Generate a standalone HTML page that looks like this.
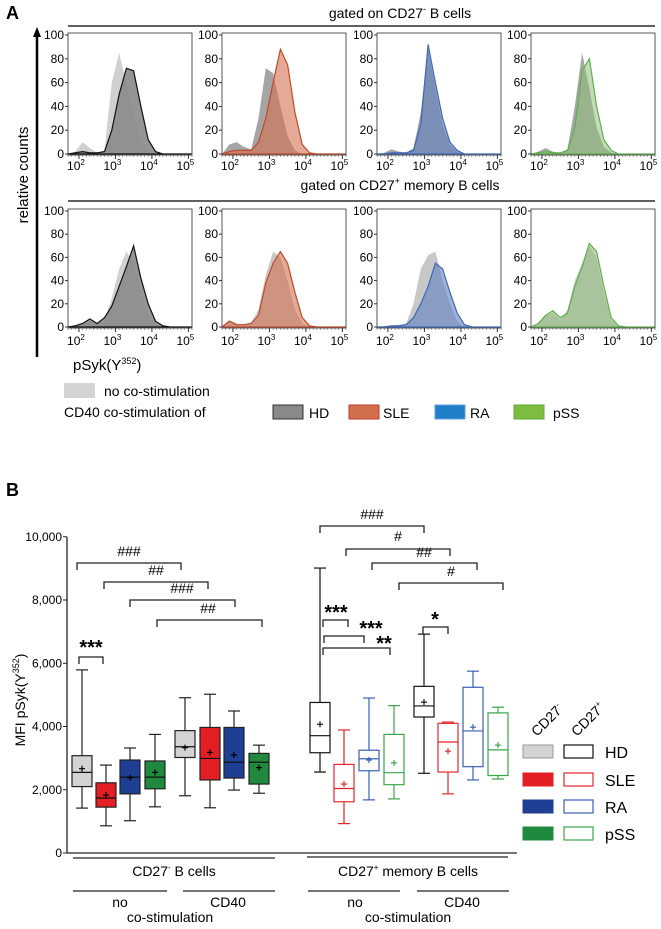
<!DOCTYPE html>
<html><head><meta charset="utf-8"><style>
html,body{margin:0;padding:0;background:#fff}
svg{display:block;font-family:"Liberation Sans",Arial,sans-serif}
</style></head><body>
<svg id="fig" width="661" height="929" viewBox="0 0 661 929" xmlns="http://www.w3.org/2000/svg">
<text x="6" y="19" font-size="18" font-weight="bold">A</text>
<text x="400" y="18" font-size="14" text-anchor="middle">gated on CD27<tspan font-size="9" dy="-6">-</tspan><tspan dy="6"> B cells</tspan></text>
<line x1="68" y1="26" x2="655" y2="26" stroke="#000" stroke-width="1.3"/>
<text x="400" y="190" font-size="14" text-anchor="middle">gated on CD27<tspan font-size="9" dy="-6">+</tspan><tspan dy="6"> memory B cells</tspan></text>
<line x1="68" y1="201" x2="655" y2="201" stroke="#000" stroke-width="1.3"/>
<line x1="37" y1="357" x2="37" y2="34" stroke="#000" stroke-width="2.5"/>
<polygon points="37,27 33,37 41,37" fill="#000"/>
<text transform="translate(28,175) rotate(-90)" font-size="15" text-anchor="middle">relative counts</text>
<text x="73" y="370" font-size="15">pSyk(Y<tspan font-size="9" dy="-6">352</tspan><tspan dy="6">)</tspan></text>
<rect x="64" y="383" width="31" height="15" fill="#d4d4d4"/>
<text x="104" y="396" font-size="14">no co-stimulation</text>
<text x="64" y="417" font-size="14">CD40 co-stimulation of</text>
<rect x="273" y="405" width="30" height="14" fill="#8a8a8a" stroke="#333"/>
<text x="309" y="418" font-size="14">HD</text>
<rect x="349" y="405" width="30" height="14" fill="#d0704a" stroke="#c0392b"/>
<text x="383" y="418" font-size="14">SLE</text>
<rect x="435" y="405" width="30" height="14" fill="#1f7fc8" stroke="#5aa0dd"/>
<text x="470" y="418" font-size="14">RA</text>
<rect x="514" y="405" width="30" height="14" fill="#7cbd3f" stroke="#5caa3a"/>
<text x="553" y="418" font-size="14">pSS</text>

<text x="6" y="496" font-size="18" font-weight="bold">B</text>
<text transform="translate(25,700) rotate(-90)" font-size="14" text-anchor="middle">MFI pSyk(Y<tspan font-size="9" dy="-6">352</tspan><tspan dy="6">)</tspan></text>
<g id="histos"></g>
<g id="boxes"></g>
<g id="legendB">
<text transform="translate(537,737) rotate(-45)" font-size="14">CD27<tspan font-size="8" dy="-6">-</tspan></text>
<text transform="translate(577,737) rotate(-45)" font-size="14">CD27<tspan font-size="8" dy="-6">+</tspan></text>
</g>
</svg>
<script>
const NS="http://www.w3.org/2000/svg";
function mk(tag,attrs,parent){const e=document.createElementNS(NS,tag);for(const k in attrs)e.setAttribute(k,attrs[k]);(parent||document.getElementById('fig')).appendChild(e);return e;}

// ---------- Panel A data ----------
const logBins=[1.7,1.9,2.1,2.3,2.5,2.7,2.9,3.1,3.3,3.5,3.7,3.9,4.1,4.3,4.5,4.7,4.9,5.1];
const topHdBase=[0,2,10,5,1,3,60,85,60,35,12,3,0,0,0,0,0,0];
const topHdStim=[0,1,2,1,1,2,20,50,72,70,40,12,2,0,0,0,0,0];
const topSleBase=[0,8,10,6,4,30,72,68,40,15,3,0,0,0,0,0,0,0];
const topSleStim=[0,2,3,3,3,10,30,60,88,75,35,8,1,0,0,0,0,0];
const topRaBase=[0,1,4,2,1,5,35,88,55,25,8,2,0,0,0,0,0,0];
const topRaStim=[0,0,1,1,1,3,25,92,60,30,10,3,0,0,0,0,0,0];
const topPssBase=[0,2,5,2,1,4,40,85,55,22,6,1,0,0,0,0,0,0];
const topPssStim=[0,1,2,1,1,3,22,70,80,40,12,3,0,0,0,0,0,0];
const botHdBase=[0,1,3,6,3,5,25,50,65,55,30,10,2,0,0,0,0,0];
const botHdStim=[0,1,3,7,3,8,18,35,52,70,42,20,5,1,0,0,0,0];
const botSleBase=[0,6,3,2,4,15,45,65,60,40,15,3,0,0,0,0,0,0];
const botSleStim=[0,5,2,2,3,10,38,55,65,55,30,8,1,0,0,0,0,0];
const botRaBase=[0,1,1,2,3,20,50,62,65,40,20,5,0,0,0,0,0,0];
const botRaStim=[0,0,1,1,2,8,20,35,55,50,30,12,2,0,0,0,0,0];
const botPssBase=[0,3,10,12,6,15,40,55,70,60,30,6,0,0,0,0,0,0];
const botPssStim=[0,3,10,14,8,12,35,52,72,65,35,8,1,0,0,0,0,0];
const yTicksA=[0,20,40,60,80,100];
const xTicksA=[2,3,4,5];

const panelX=[68,222,377,531], panelW=124;
const rows=[{top:33,bot:155,lab:170},{top:209,bot:328,lab:345}];
const styles=[
 {name:'hd',base:'#d0d0d0',baseTop:'#d0d0d0',fill:'#8a8a8a',line:'#111',op:0.9},
 {name:'sle',base:'#a5a5a5',baseTop:'#a5a5a5',fill:'#d2724e',line:'#c0492a',op:0.6},
 {name:'ra',base:'#a5a5a5',baseTop:'#a5a5a5',fill:'#5f7fc0',line:'#3f67b5',op:0.6},
 {name:'pss',base:'#a5a5a5',baseTop:'#a5a5a5',fill:'#8fc07a',line:'#5fb04c',op:0.55}];
const series=[[topHdBase,topHdStim],[topSleBase,topSleStim],[topRaBase,topRaStim],[topPssBase,topPssStim],
 [botHdBase,botHdStim],[botSleBase,botSleStim],[botRaBase,botRaStim],[botPssBase,botPssStim]];
const hg=document.getElementById('histos');
rows.forEach((r,ri)=>{
 panelX.forEach((px,pi)=>{
  const st=styles[pi];
  const g=mk('g',{},hg);
  
  
  const xs=v=>px+(v-1.7)/(5.1-1.7)*panelW;
  const ys=v=>r.bot-1-v/100*(r.bot-r.top-3);
  const pathFor=arr=>{let d='M'+xs(logBins[0])+','+ys(0);arr.forEach((v,i)=>{d+=' L'+xs(logBins[i]).toFixed(1)+','+ys(v).toFixed(1);});d+=' L'+xs(logBins[logBins.length-1])+','+ys(0)+'Z';return d;};
  const [b,s]=series[ri*4+pi];
  const bp=mk('path',{d:pathFor(b),fill:(ri===1&&pi>0)?'#c8c8c8':(pi===0?'#d0d0d0':st.base)},g);
  
  
  const sp=mk('path',{d:pathFor(s),fill:st.fill,'fill-opacity':st.op,stroke:st.line,'stroke-width':1.2},g);
  
  
  const fr=mk('rect',{x:px,y:r.top,width:panelW,height:r.bot-r.top,fill:'none',stroke:'#555','stroke-width':1},g);
  
  
  yTicksA.forEach(t=>{
   const y=ys(t);
   mk('line',{x1:px-3,x2:px,y1:y,y2:y,stroke:'#333'},g);
   const tx=mk('text',{x:px-4,y:y+4,'font-size':12,'text-anchor':'end'},g);
   tx.textContent=t;
   
   
  });
  for(let d=1.7;d<=5.1;d+=0.1){const x=xs(d);mk('line',{x1:x,x2:x,y1:r.bot,y2:r.bot+2,stroke:'#666','stroke-width':0.6},g);}
  xTicksA.forEach(t=>{
   const x=xs(t);
   mk('line',{x1:x,x2:x,y1:r.bot,y2:r.bot+4,stroke:'#333'},g);
   const tx=mk('text',{x:x-3,y:r.lab,'font-size':12,'text-anchor':'middle'},g);
   
   
   tx.innerHTML='10<tspan font-size="8" dy="-5">'+t+'</tspan>';
  });
 });
});

// ---------- Panel B data ----------
const groupNames=['HD','SLE','RA','pSS','HD','SLE','RA','pSS','HD','SLE','RA','pSS','HD','SLE','RA','pSS'];
const whiskMax=[5790,2780,3320,3750,4910,5020,4490,3410,9010,3890,4900,4660,6920,4140,5750,4610];
const q3Vals=[3077,2220,2940,2910,3870,3970,3970,3150,4760,2800,3250,3750,5270,4100,5240,4430];
const medVals=[2550,1740,2400,2400,3360,2990,2870,2870,3710,2040,2980,2540,4650,3510,3860,3260];
const q1Vals=[2100,1450,1870,2030,3020,2310,2370,2180,3170,1620,2600,2160,4300,2560,2730,2450];
const whiskMin=[1420,860,1020,1460,1810,1430,1990,1890,2560,930,1680,1710,2520,1870,2310,2340];
const meanVals=[2665,1830,2380,2550,3330,3180,3100,2700,4070,2180,2940,2850,4770,3220,3980,3410];
const yTicksB=[0,2000,4000,6000,8000,10000];
const yTickLabelsB=['0','2,000','4,000','6,000','8,000','10,000'];

const boxX=[82,106,130,155,185,210,234,259,320,344,369,394,424,448,473,498];
const fills=['#d3d3d3','#e31e24','#1f3f94','#1f8a3e'];
const strokesNeg=['#555','#333','#222','#222'];
const strokesPos=['#111','#e3262b','#3a5fb5','#3aa64a'];
const yB=v=>853-v/2000*63.25;
const bg=document.getElementById('boxes');
const ax=mk('line',{x1:67,y1:537,x2:67,y2:853,stroke:'#222','stroke-width':1.3},bg);


const xa=mk('line',{x1:67,y1:853,x2:517,y2:853,stroke:'#222','stroke-width':1.3},bg);


yTicksB.forEach((t,i)=>{
 const y=yB(t);
 mk('line',{x1:63,x2:67,y1:y,y2:y,stroke:'#222'},bg);
 const tx=mk('text',{x:62,y:y+4,'font-size':12,'text-anchor':'end'},bg);
 tx.textContent=yTickLabelsB[i];
 
 
});
groupNames.forEach((n,i)=>{
 const pos=i>=8, ci=i%4, cx=boxX[i], w=20;
 const g=mk('g',{},bg);
 
 
 const sc=pos?strokesPos[ci]:strokesNeg[ci];
 const lc=pos?strokesPos[ci]:'#222';
 mk('line',{x1:cx,x2:cx,y1:yB(whiskMax[i]),y2:yB(q3Vals[i]),stroke:lc,'stroke-width':1.2},g);
 mk('line',{x1:cx,x2:cx,y1:yB(q1Vals[i]),y2:yB(whiskMin[i]),stroke:lc,'stroke-width':1.2},g);
 mk('line',{x1:cx-6,x2:cx+6,y1:yB(whiskMax[i]),y2:yB(whiskMax[i]),stroke:lc,'stroke-width':1.2},g);
 mk('line',{x1:cx-6,x2:cx+6,y1:yB(whiskMin[i]),y2:yB(whiskMin[i]),stroke:lc,'stroke-width':1.2},g);
 mk('rect',{x:cx-w/2,y:yB(q3Vals[i]),width:w,height:yB(q1Vals[i])-yB(q3Vals[i]),fill:pos?'#fff':fills[ci],stroke:pos?sc:'#222','stroke-width':1.2},g);
 mk('line',{x1:cx-w/2,x2:cx+w/2,y1:yB(medVals[i]),y2:yB(medVals[i]),stroke:pos?sc:'#111','stroke-width':1.2},g);
 const m=yB(meanVals[i]);
 mk('line',{x1:cx-3,x2:cx+3,y1:m,y2:m,stroke:pos?sc:'#000','stroke-width':1.2},g);
 mk('line',{x1:cx,x2:cx,y1:m-3,y2:m+3,stroke:pos?sc:'#000','stroke-width':1.2},g);
});
// significance brackets: [x1, x2, y, label, labelY, labelX, fontSize]
const brackets=[[77,181,563,'###',556,129,14],[104,208,582,'##',575,156,14],[130,235,600,'###',593,182,14],[157,262,620,'##',613,208,14],
 [320,424,526,'###',519,372,14],[346,450,549,'#',541,398,14],[372,477,563,'##',557,424,14],[399,503,583,'#',576,451,14],
 [79,103,657,'***',645,91,20],[323,348,620,'***',610,336,20],[324,364,636,'***',626,371,20],[323,390,648,'**',641,384,20],[423,448,627,'*',617,435,20]];
brackets.forEach(b=>{
 const p=mk('path',{d:`M${b[0]},${b[2]+7} V${b[2]} H${b[1]} V${b[2]+7}`,fill:'none',stroke:'#222','stroke-width':1.3},bg);
 
 
 const t=mk('text',{x:b[5],y:b[4]+(b[6]>15?9:0),'font-size':b[6],'text-anchor':'middle','font-weight':b[6]>15?'bold':'normal'},bg);
 t.textContent=b[3];
 
 
});
// group annotations
const ann=[[73,275,858,'CD27','-',' B cells',174,876],[307,508,857,'CD27','+',' memory B cells',408,876]];
ann.forEach(a=>{
 const l=mk('line',{x1:a[0],x2:a[1],y1:a[2],y2:a[2],stroke:'#222','stroke-width':1.2},bg);
 
 
 const t=mk('text',{x:a[6],y:a[7],'font-size':14,'text-anchor':'middle'},bg);
 t.innerHTML=a[3]+'<tspan font-size="8" dy="-6">'+a[4]+'</tspan><tspan dy="6">'+a[5]+'</tspan>';
 
 
});
const subs=[[73,167,120,'no'],[183,275,228,'CD40'],[308,400,355,'no'],[417,509,462,'CD40']];
subs.forEach(s=>{
 const l=mk('line',{x1:s[0],x2:s[1],y1:891,y2:891,stroke:'#222','stroke-width':1.2},bg);
 
 
 const t=mk('text',{x:s[2],y:907,'font-size':14,'text-anchor':'middle'},bg);
 t.textContent=s[3];
 
 
});
[170,408].forEach(x=>{
 const t=mk('text',{x:x,y:922,'font-size':14,'text-anchor':'middle'},bg);
 t.textContent='co-stimulation';
 
 
});
// legend B
const lg=document.getElementById('legendB');
const legNames=['HD','SLE','RA','pSS'], legY=[745,773,800,827];
legNames.forEach((n,i)=>{
 const a=mk('rect',{x:523,y:legY[i],width:30,height:13,fill:fills[i],stroke:i===0?'#999':fills[i]},lg);
 
 
 const b=mk('rect',{x:564,y:legY[i],width:29,height:13,fill:'#fff',stroke:strokesPos[i],'stroke-width':1.2},lg);
 
 
 const t=mk('text',{x:605,y:legY[i]+13,'font-size':16},lg);
 t.textContent=n;
 
 
});
</script>
</body></html>
